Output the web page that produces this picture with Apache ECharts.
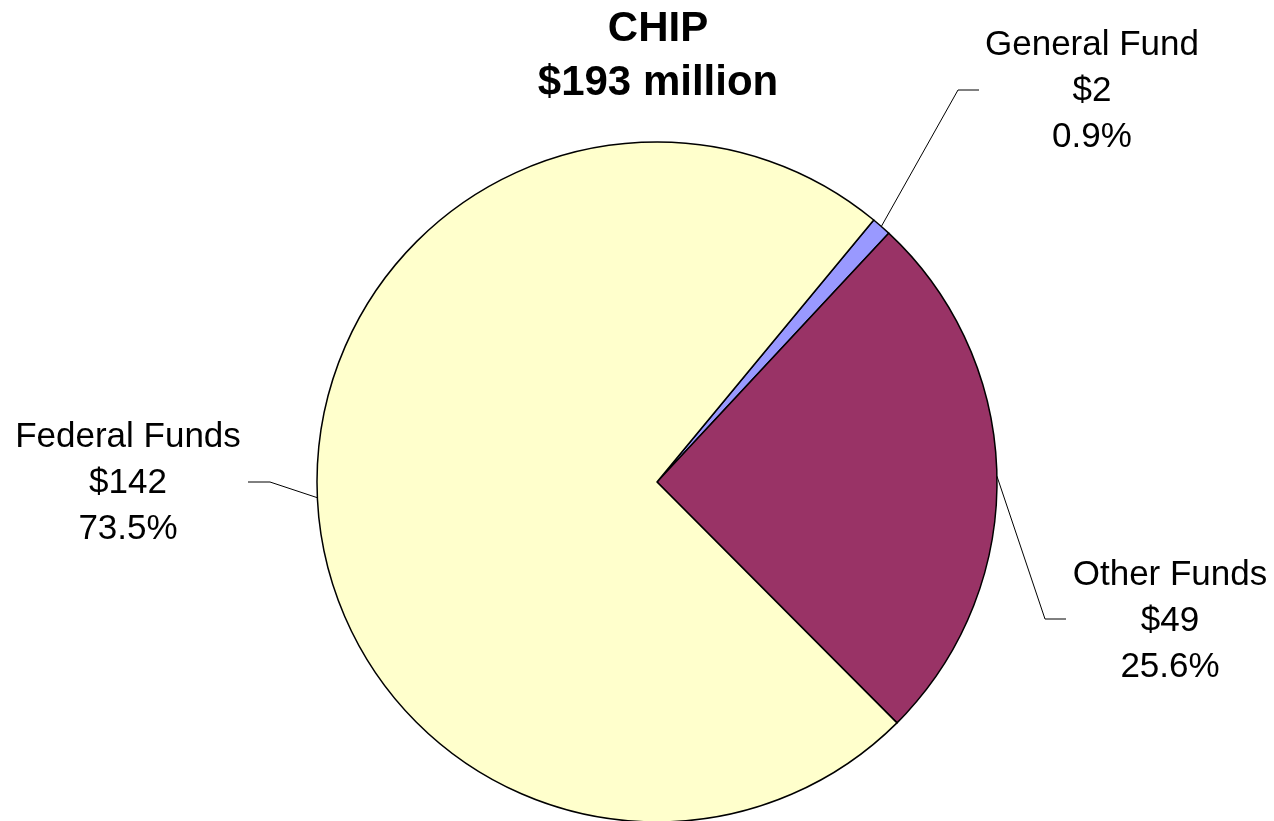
<!DOCTYPE html>
<html>
<head>
<meta charset="utf-8">
<script src="https://cdn.jsdelivr.net/npm/echarts@6/dist/echarts.min.js"></script>
<style>
html,body{margin:0;padding:0;background:#fff;}
#chart{width:1274px;height:821px;}
</style>
</head>
<body>
<div id="chart"></div>
<script>
// Data (clockwise order starting at the top-right)
const categories = ['General Fund', 'Other Funds', 'Federal Funds'];
const values = [1.8, 49.4, 141.8];   // $ millions
const colors = ['#9999FF', '#993366', '#FFFFCC'];
const titleLines = ['CHIP', '$193 million'];

const total = values.reduce((a, b) => a + b, 0);

// label placement (layout only)
const labelPos = {
  'General Fund': { x: 1092, y: 91, bend: [958, 90], end: [979, 90] },
  'Other Funds': { x: 1170, y: 621, bend: [1045, 619], end: [1066, 619] },
  'Federal Funds': { x: 128, y: 483, bend: [270, 482], end: [248, 482] }
};

const chart = echarts.init(document.getElementById('chart'), null, { renderer: 'canvas' });
const FONT = '"Liberation Sans", Arial, sans-serif';

chart.setOption({
  animation: false,
  backgroundColor: '#ffffff',
  graphic: [{
    type: 'text',
    x: 658,
    y: 2,
    style: {
      text: titleLines.join('\n'),
      font: 'bold 42px ' + FONT,
      fill: '#000',
      textAlign: 'center',
      textVerticalAlign: 'top',
      lineHeight: 54
    }
  }],
  series: [{
    type: 'pie',
    center: [657, 482],
    radius: 340,
    startAngle: 50.4,
    clockwise: true,
    avoidLabelOverlap: false,
    data: categories.map((c, i) => ({
      name: c,
      value: values[i],
      itemStyle: { color: colors[i] }
    })),
    itemStyle: { borderColor: '#000', borderWidth: 1.5 },
    emphasis: { disabled: true },
    label: {
      show: true,
      position: 'outside',
      color: '#000',
      fontFamily: FONT,
      fontSize: 35,
      lineHeight: 46,
      align: 'center',
      formatter: p => p.name + '\n$' + Math.round(p.value) + '\n' + (p.value / total * 100).toFixed(1) + '%'
    },
    labelLine: {
      show: true,
      length: 20,
      length2: 20,
      lineStyle: { color: '#000', width: 1 }
    },
    labelLayout: function (params) {
      const pos = labelPos[categories[params.dataIndex]];
      const start = params.labelLinePoints ? params.labelLinePoints[0] : pos.bend;
      return {
        x: pos.x,
        y: pos.y,
        align: 'center',
        verticalAlign: 'middle',
        labelLinePoints: [start, pos.bend, pos.end]
      };
    }
  }]
});
</script>
</body>
</html>
